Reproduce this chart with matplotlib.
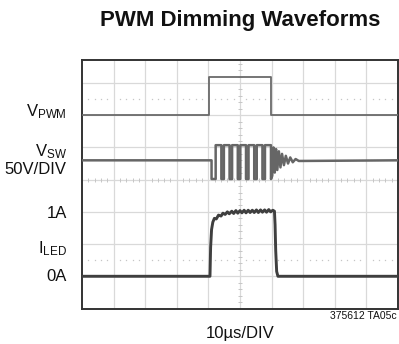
import matplotlib
matplotlib.use("Agg")
import matplotlib.pyplot as plt
from matplotlib import font_manager
import numpy as np

# ---------------- data (time in µs, level in screen divisions) ----------------
pwm_t = [0, 40.2, 40.2, 59.8, 59.8, 100]
pwm_v = [6.0, 6.0, 7.2, 7.2, 6.0, 6.0]

sw_baseline = 4.6
sw_high = 5.07
sw_low = 4.02
sw_edges = [41.0, 42.3, 44.1, 44.9, 46.7, 47.5, 49.3, 50.1, 51.9, 52.7,
            54.5, 55.3, 57.1, 57.9, 59.8]
ring_t = [60.2, 60.6, 61.0, 61.4, 61.8, 62.3, 62.8, 63.3, 63.9, 64.5,
          65.2, 65.9, 66.7, 67.6, 68.6, 100]
ring_v = [4.12, 5.00, 4.22, 4.95, 4.30, 4.88, 4.38, 4.80, 4.45, 4.74,
          4.50, 4.69, 4.54, 4.64, 4.58, 4.60]

iled_t = [0, 40.5, 40.7, 41.0, 41.4, 41.9, 42.5, 43.2, 44.0, 44.6, 45.3, 46.0,
          46.6, 47.4, 48.0, 48.7, 49.3, 50.0, 50.6, 51.3, 51.9, 52.6, 53.2,
          53.9, 54.5, 55.2, 55.8, 56.5, 57.1, 57.8, 58.4, 59.1, 59.7, 60.4,
          60.9, 61.1, 61.3, 61.6, 62.0, 100]
iled_v = [1.0, 1.0, 1.9, 2.45, 2.68, 2.80, 2.78, 2.90, 2.87, 2.96, 2.92, 3.0,
          2.94, 3.02, 2.95, 3.04, 2.96, 3.04, 2.97, 3.05, 2.97, 3.05, 2.98,
          3.05, 2.98, 3.06, 2.98, 3.06, 2.99, 3.06, 2.99, 3.07, 3.0, 3.05,
          3.02, 2.6, 1.8, 1.15, 1.0, 1.0]

labels = [("V$_{PWM}$", 6.12), ("V$_{SW}$", 4.88), ("50V/DIV", 4.32),
          ("1A", 2.95), ("I$_{LED}$", 1.85), ("0A", 1.0)]
title = "PWM Dimming Waveforms"
xlabel = "10µs/DIV"
code = "375612 TA05c"

# ---------------- fonts ----------------
names = {f.name for f in font_manager.fontManager.ttflist}
narrow = "Liberation Sans Narrow" if "Liberation Sans Narrow" in names else "Liberation Sans"
plt.rcParams["font.family"] = [narrow, "DejaVu Sans"]
plt.rcParams["mathtext.fontset"] = "custom"
plt.rcParams["mathtext.rm"] = narrow
plt.rcParams["mathtext.it"] = narrow
plt.rcParams["mathtext.default"] = "regular"

# ---------------- figure ----------------
W, H = 399, 344
fig = plt.figure(figsize=(W / 100, H / 100), dpi=100)
ax = fig.add_axes([82 / W, (H - 308.5) / H, (398 - 82) / W, (308.5 - 59.5) / H])
ax.set_xlim(0, 100)
ax.set_ylim(0, 7.73)
ax.set_xticks([])
ax.set_yticks([])
for s in ax.spines.values():
    s.set_color("#333333")
    s.set_linewidth(1.4)

grid_c = "#d9d9d9"
for gx in range(10, 100, 10):
    ax.axvline(gx, color=grid_c, lw=0.9, zorder=1)
for gy in range(1, 8):
    ax.axhline(gy, color=grid_c, lw=0.9, zorder=1)

dot_c = "#c6c6c6"
dx = [x for x in np.arange(2, 100, 2) if x % 10 != 0]
for yy in (6.5, 1.5):
    ax.plot(dx, [yy] * len(dx), ls="none", marker="s", ms=0.9, mew=0,
            color=dot_c, zorder=1)
ax.plot(dx, [4.0] * len(dx), ls="none", marker="|", ms=2.5, mew=0.7,
        color=dot_c, zorder=1)
dy = [y for y in np.arange(0.2, 7.73, 0.2) if abs(y - round(y)) > 0.05]
ax.plot([50] * len(dy), dy, ls="none", marker="_", ms=2.5, mew=0.7,
        color=dot_c, zorder=1)

# PWM trace
ax.plot(pwm_t, pwm_v, color="#6a6a6a", lw=1.3, zorder=3)

# switch node trace
sw_t = [0, sw_edges[0]]
sw_v = [sw_baseline, sw_baseline]
level = sw_low
for e in sw_edges:
    sw_t += [e, e]
    sw_v += [sw_v[-1], level]
    level = sw_high if level == sw_low else sw_low
sw_t += ring_t
sw_v += ring_v
ax.plot(sw_t, sw_v, color="#666666", lw=1.8, zorder=3)

# LED current
ax.plot(iled_t, iled_v, color="#3f3f3f", lw=2.1, zorder=3)

# labels
for txt, yy in labels:
    ax.text(-4.8, yy, txt, ha="right", va="center", fontsize=12,
            color="#111111", clip_on=False)

fig.text(240 / W, 1 - 26 / H, title, ha="center", va="baseline",
         fontsize=16, fontweight="bold", color="#111111")
fig.text(240 / W, 1 - 338 / H, xlabel, ha="center", va="baseline",
         fontsize=12, color="#111111")
fig.text(397 / W, 1 - 319 / H, code, ha="right", va="baseline",
         fontsize=7.5, color="#111111")

fig.savefig("out.png", dpi=100)
